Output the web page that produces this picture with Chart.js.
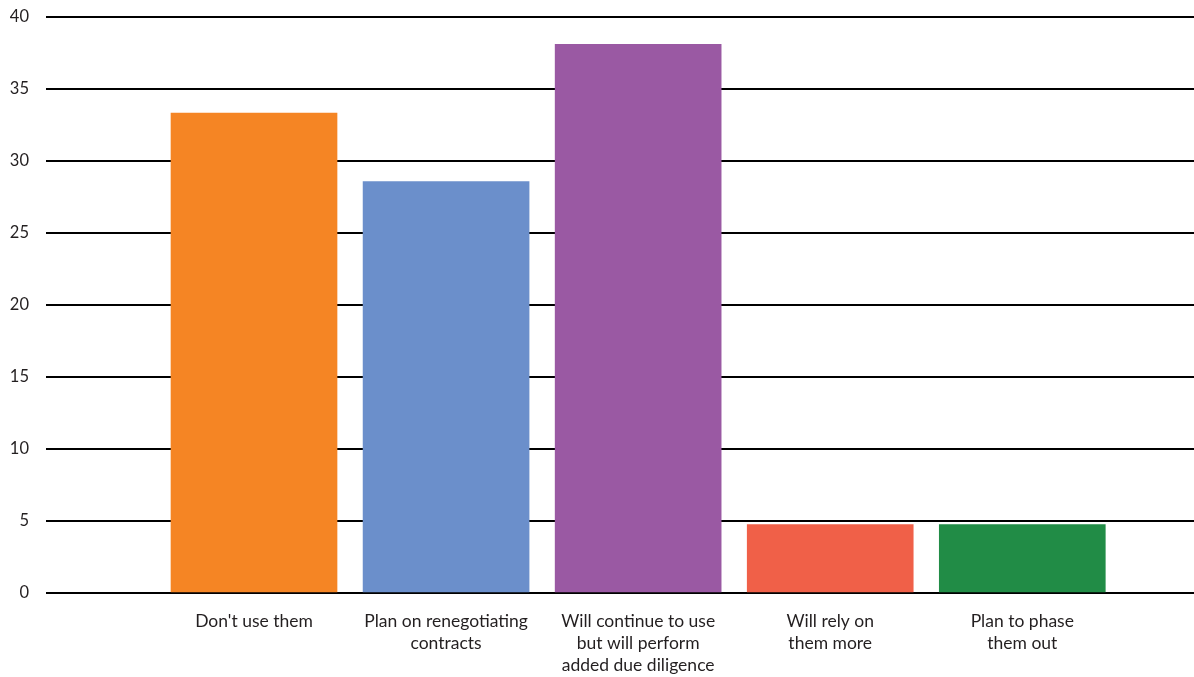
<!DOCTYPE html>
<html>
<head>
<meta charset="utf-8">
<script src="https://cdn.jsdelivr.net/npm/chart.js@4.4.1/dist/chart.umd.min.js"></script>
<style>
  html, body { margin: 0; padding: 0; background: #fff; }
  #wrap { width: 1194px; height: 677px; position: relative; }
</style>
</head>
<body>
<div id="wrap"><canvas id="chart"></canvas></div>
<script>
// categories (multi-line labels as in the picture)
const categories = [
  ["Don't use them"],
  ["Plan on renegotiating", "contracts"],
  ["Will continue to use", "but will perform", "added due diligence"],
  ["Will rely on", "them more"],
  ["Plan to phase", "them out"]
];
const values = [33.33, 28.57, 38.1, 4.76, 4.76];
const barColors = ['#F58524', '#6B8FCB', '#9A59A3', '#F06048', '#218C46'];
const yTicks = [0, 5, 10, 15, 20, 25, 30, 35, 40];

const ctx = document.getElementById('chart').getContext('2d');

// x positions 1..n so the bars sit inside the wider grid area
const points = values.map((v, i) => ({ x: i + 1, y: v }));

new Chart(ctx, {
  type: 'bar',
  data: {
    datasets: [{
      data: points,
      backgroundColor: barColors,
      borderWidth: 0,
      barThickness: 166
    }]
  },
  options: {
    responsive: true,
    maintainAspectRatio: false,
    animation: false,
    layout: { padding: { left: 10, top: 17, right: 0, bottom: 0 } },
    plugins: {
      legend: { display: false },
      tooltip: { enabled: false }
    },
    scales: {
      x: {
        type: 'linear',
        offset: false,
        min: -0.083,
        max: 5.894,
        grid: { display: false },
        border: { display: false },
        afterBuildTicks: axis => {
          axis.ticks = categories.map((c, i) => ({ value: i + 1 }));
        },
        afterFit: axis => { axis.height = 84; },
        ticks: {
          autoSkip: false,
          maxRotation: 0,
          padding: 9,
          color: '#231f20',
          font: { family: 'Lato', size: 17.5, lineHeight: 1.26 },
          callback: v => categories[v - 1] || ''
        }
      },
      y: {
        min: 0,
        max: 40,
        afterBuildTicks: axis => {
          axis.ticks = yTicks.map(v => ({ value: v }));
        },
        afterFit: axis => { axis.width = 36; },
        grid: { color: '#000', lineWidth: 2, drawTicks: true, tickLength: 14, tickColor: 'rgba(0,0,0,0)' },
        border: { display: false },
        ticks: {
          padding: 3,
          color: '#231f20',
          font: { family: 'Lato', size: 16.5 }
        }
      }
    }
  }
});
</script>
</body>
</html>
